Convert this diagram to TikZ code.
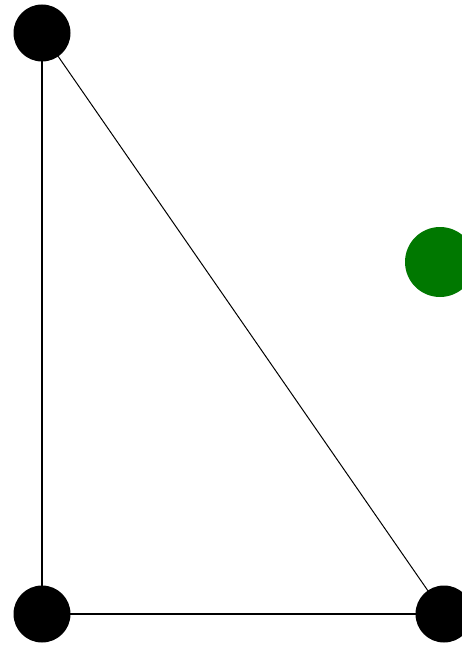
\documentclass[tikz,border=0pt]{standalone}
\definecolor{dotgreen}{RGB}{0,120,0}
\begin{document}
\begin{tikzpicture}[x=1pt,y=-1pt,
  blackdot/.style={circle,fill=black,minimum size=57pt,inner sep=0pt},
  greendot/.style={circle,fill=dotgreen,minimum size=70pt,inner sep=0pt},
  edge/.style={black,line width=1.5pt},
  thinedge/.style={black,line width=1pt}]
\useasboundingbox (0,0) rectangle (462,647);
\clip (0,0) rectangle (462,647);
\fill[white] (0,0) rectangle (462,647);
\coordinate (ca) at (42,33);
\coordinate (cb) at (42,614);
\coordinate (cc) at (444,614);
\draw[edge] (ca) -- (cb);
\draw[edge] (cb) -- (cc);
\draw[thinedge] (ca) -- (cc);
\node[blackdot] (a) at (ca) {};
\node[blackdot] (b) at (cb) {};
\node[blackdot] (c) at (cc) {};
\node[greendot] (g) at (440,262) {};
\end{tikzpicture}
\end{document}
